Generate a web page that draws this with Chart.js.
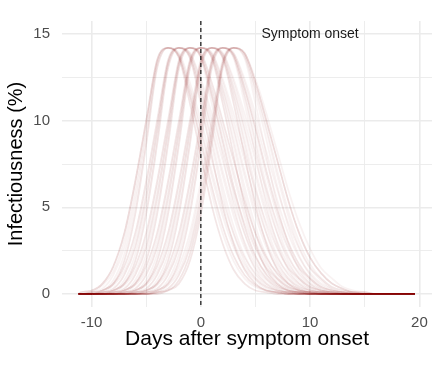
<!DOCTYPE html>
<html>
<head>
<meta charset="utf-8">
<script src="https://cdn.jsdelivr.net/npm/chart.js@4.4.0/dist/chart.umd.min.js"></script>
<style>
  html, body { margin: 0; padding: 0; background: #fff; }
</style>
</head>
<body>
<canvas id="chart" width="440" height="366"></canvas>
<script>
// x positions of every curve (days after symptom onset)
const days = [-11.2, -11, -10, -9, -8, -7, -6, -5, -4, -3, -2, -1, 0, 1, 2, 3, 4, 5, 6, 7, 8, 9, 10, 11, 12, 13, 14, 15, 16, 17, 18, 19, 19.6];

// infectiousness (%) per day, grouped by the day the curve peaks
const peakDays = [-3, -2, -1, 0, 1, 2, 3];
const peakValue = 14.2;

const peakAtMinus3 = [
  [0, 0.1,0.2,0.6,1.6,3.5,6.5,10.0,13.5, 14.2, 13.6,11.0,8.0,5.1,2.9,1.4,0.6,0.2,0.1, 0,0,0,0,0, 0,0,0,0,0, 0,0,0,0],
  [0,0, 0.1,0.3,1.1,2.7,5.6,9.4,13.3, 14.2, 13.7,11.5,8.9,6.2,3.9,2.2,1.1,0.5,0.2,0.1, 0,0,0,0,0, 0,0,0,0,0, 0,0,0],
  [0,0,0, 0.2,0.6,1.9,4.6,8.6,13.0, 14.2, 13.8,11.9,9.6,7.1,4.8,3.0,1.7,0.9,0.4,0.2,0.1, 0,0,0,0,0, 0,0,0,0,0, 0,0],
  [0, 0.1,0.2,0.6,1.6,3.5,6.5,10.0,13.5, 14.2, 13.7,11.5,8.9,6.2,3.9,2.2,1.1,0.5,0.2,0.1, 0,0,0,0,0, 0,0,0,0,0, 0,0,0],
  [0,0, 0.1,0.2,0.8,2.3,5.1,9.0,13.2, 14.2, 13.7,11.4,8.6,5.8,3.5,1.9,0.9,0.4,0.2,0.1, 0,0,0,0,0, 0,0,0,0,0, 0,0,0],
  [0,0, 0.1,0.5,1.3,3.1,6.1,9.7,13.4, 14.2, 13.8,11.8,9.4,6.8,4.5,2.7,1.5,0.8,0.3,0.1,0.1, 0,0,0,0,0, 0,0,0,0,0, 0,0],
  [0,0,0, 0.2,0.6,1.9,4.6,8.6,13.0, 14.2, 13.6,11.0,8.0,5.1,2.9,1.4,0.6,0.2,0.1, 0,0,0,0,0, 0,0,0,0,0, 0,0,0,0],
  [0, 0.1,0.2,0.6,1.6,3.5,6.5,10.0,13.5, 14.2, 13.9,12.2,10.0,7.7,5.4,3.5,2.1,1.2,0.6,0.3,0.1,0.1, 0,0,0,0,0, 0,0,0,0,0, 0]
];
const peakAtMinus2 = [
  [0,0,0, 0.1,0.3,1.1,2.7,5.6,9.4,13.3, 14.2, 13.6,11.0,8.0,5.1,2.9,1.4,0.6,0.2,0.1, 0,0,0,0,0, 0,0,0,0,0, 0,0,0],
  [0,0, 0.1,0.2,0.6,1.6,3.5,6.5,10.0,13.5, 14.2, 13.8,11.9,9.6,7.1,4.8,3.0,1.7,0.9,0.4,0.2,0.1, 0,0,0,0,0, 0,0,0,0,0, 0],
  [0,0,0,0, 0.2,0.6,1.9,4.6,8.6,13.0, 14.2, 13.7,11.5,8.9,6.2,3.9,2.2,1.1,0.5,0.2,0.1, 0,0,0,0,0, 0,0,0,0,0, 0,0],
  [0,0,0, 0.1,0.3,1.1,2.7,5.6,9.4,13.3, 14.2, 13.9,12.2,10.0,7.7,5.4,3.5,2.1,1.2,0.6,0.3,0.1,0.1, 0,0,0,0,0, 0,0,0,0,0],
  [0,0,0, 0.1,0.2,0.8,2.3,5.1,9.0,13.2, 14.2, 13.8,11.8,9.4,6.8,4.5,2.7,1.5,0.8,0.3,0.1,0.1, 0,0,0,0,0, 0,0,0,0,0, 0],
  [0,0,0, 0.1,0.5,1.3,3.1,6.1,9.7,13.4, 14.2, 13.7,11.4,8.6,5.8,3.5,1.9,0.9,0.4,0.2,0.1, 0,0,0,0,0, 0,0,0,0,0, 0,0],
  [0,0, 0.1,0.2,0.6,1.6,3.5,6.5,10.0,13.5, 14.2, 13.6,11.0,8.0,5.1,2.9,1.4,0.6,0.2,0.1, 0,0,0,0,0, 0,0,0,0,0, 0,0,0],
  [0,0,0,0, 0.2,0.6,1.9,4.6,8.6,13.0, 14.2, 13.9,12.4,10.4,8.2,6.0,4.1,2.6,1.5,0.9,0.4,0.2,0.1, 0,0,0,0,0, 0,0,0,0,0]
];
const peakAtMinus1 = [
  [0,0,0,0,0, 0.2,0.6,1.9,4.6,8.6,13.0, 14.2, 13.6,11.0,8.0,5.1,2.9,1.4,0.6,0.2,0.1, 0,0,0,0,0, 0,0,0,0,0, 0,0],
  [0,0,0,0, 0.1,0.3,1.1,2.7,5.6,9.4,13.3, 14.2, 13.8,11.9,9.6,7.1,4.8,3.0,1.7,0.9,0.4,0.2,0.1, 0,0,0,0,0, 0,0,0,0,0],
  [0,0,0, 0.1,0.2,0.6,1.6,3.5,6.5,10.0,13.5, 14.2, 13.7,11.5,8.9,6.2,3.9,2.2,1.1,0.5,0.2,0.1, 0,0,0,0,0, 0,0,0,0,0, 0],
  [0,0,0,0,0, 0.2,0.6,1.9,4.6,8.6,13.0, 14.2, 13.9,12.2,10.0,7.7,5.4,3.5,2.1,1.2,0.6,0.3,0.1,0.1, 0,0,0,0,0, 0,0,0,0],
  [0,0,0,0, 0.1,0.2,0.8,2.3,5.1,9.0,13.2, 14.2, 13.7,11.5,8.9,6.2,3.9,2.2,1.1,0.5,0.2,0.1, 0,0,0,0,0, 0,0,0,0,0, 0],
  [0,0,0,0, 0.1,0.5,1.3,3.1,6.1,9.7,13.4, 14.2, 13.9,12.2,10.0,7.7,5.4,3.5,2.1,1.2,0.6,0.3,0.1,0.1, 0,0,0,0,0, 0,0,0,0],
  [0,0,0,0, 0.1,0.3,1.1,2.7,5.6,9.4,13.3, 14.2, 13.7,11.4,8.6,5.8,3.5,1.9,0.9,0.4,0.2,0.1, 0,0,0,0,0, 0,0,0,0,0, 0],
  [0,0,0, 0.1,0.2,0.6,1.6,3.5,6.5,10.0,13.5, 14.2, 13.8,11.8,9.4,6.8,4.5,2.7,1.5,0.8,0.3,0.1,0.1, 0,0,0,0,0, 0,0,0,0,0]
];
const peakAt0 = [
  [0,0,0,0, 0.1,0.2,0.6,1.6,3.5,6.5,10.0,13.5, 14.2, 13.6,11.0,8.0,5.1,2.9,1.4,0.6,0.2,0.1, 0,0,0,0,0, 0,0,0,0,0, 0],
  [0,0,0,0,0, 0, 0.2,0.6,1.9,4.6,8.6,13.0, 14.2, 13.7,11.5,8.9,6.2,3.9,2.2,1.1,0.5,0.2,0.1, 0,0,0,0,0, 0,0,0,0,0],
  [0,0,0,0,0, 0.1,0.3,1.1,2.7,5.6,9.4,13.3, 14.2, 13.8,11.9,9.6,7.1,4.8,3.0,1.7,0.9,0.4,0.2,0.1, 0,0,0,0,0, 0,0,0,0],
  [0,0,0,0, 0.1,0.2,0.6,1.6,3.5,6.5,10.0,13.5, 14.2, 13.9,12.2,10.0,7.7,5.4,3.5,2.1,1.2,0.6,0.3,0.1,0.1, 0,0,0,0,0, 0,0,0],
  [0,0,0,0,0, 0.1,0.2,0.8,2.3,5.1,9.0,13.2, 14.2, 13.8,11.8,9.4,6.8,4.5,2.7,1.5,0.8,0.3,0.1,0.1, 0,0,0,0,0, 0,0,0,0],
  [0,0,0,0,0, 0.1,0.5,1.3,3.1,6.1,9.7,13.4, 14.2, 13.6,11.0,8.0,5.1,2.9,1.4,0.6,0.2,0.1, 0,0,0,0,0, 0,0,0,0,0, 0],
  [0,0,0,0,0, 0, 0.2,0.6,1.9,4.6,8.6,13.0, 14.2, 13.9,12.4,10.4,8.2,6.0,4.1,2.6,1.5,0.9,0.4,0.2,0.1, 0,0,0,0,0, 0,0,0],
  [0,0,0,0,0, 0.1,0.3,1.1,2.7,5.6,9.4,13.3, 14.2, 13.7,11.4,8.6,5.8,3.5,1.9,0.9,0.4,0.2,0.1, 0,0,0,0,0, 0,0,0,0,0]
];
const peakAtPlus1 = [
  [0,0,0,0,0, 0, 0.1,0.3,1.1,2.7,5.6,9.4,13.3, 14.2, 13.6,11.0,8.0,5.1,2.9,1.4,0.6,0.2,0.1, 0,0,0,0,0, 0,0,0,0,0],
  [0,0,0,0,0, 0,0, 0.2,0.6,1.9,4.6,8.6,13.0, 14.2, 13.8,11.9,9.6,7.1,4.8,3.0,1.7,0.9,0.4,0.2,0.1, 0,0,0,0,0, 0,0,0],
  [0,0,0,0,0, 0.1,0.2,0.6,1.6,3.5,6.5,10.0,13.5, 14.2, 13.7,11.5,8.9,6.2,3.9,2.2,1.1,0.5,0.2,0.1, 0,0,0,0,0, 0,0,0,0],
  [0,0,0,0,0, 0, 0.1,0.3,1.1,2.7,5.6,9.4,13.3, 14.2, 13.9,12.2,10.0,7.7,5.4,3.5,2.1,1.2,0.6,0.3,0.1,0.1, 0,0,0,0,0, 0,0],
  [0,0,0,0,0, 0, 0.1,0.2,0.8,2.3,5.1,9.0,13.2, 14.2, 13.7,11.4,8.6,5.8,3.5,1.9,0.9,0.4,0.2,0.1, 0,0,0,0,0, 0,0,0,0],
  [0,0,0,0,0, 0, 0.1,0.5,1.3,3.1,6.1,9.7,13.4, 14.2, 13.8,11.8,9.4,6.8,4.5,2.7,1.5,0.8,0.3,0.1,0.1, 0,0,0,0,0, 0,0,0],
  [0,0,0,0,0, 0.1,0.2,0.6,1.6,3.5,6.5,10.0,13.5, 14.2, 13.9,12.4,10.4,8.2,6.0,4.1,2.6,1.5,0.9,0.4,0.2,0.1, 0,0,0,0,0, 0,0],
  [0,0,0,0,0, 0,0, 0.2,0.6,1.9,4.6,8.6,13.0, 14.2, 13.6,11.0,8.0,5.1,2.9,1.4,0.6,0.2,0.1, 0,0,0,0,0, 0,0,0,0,0]
];
const peakAtPlus2 = [
  [0,0,0,0,0, 0,0,0, 0.2,0.6,1.9,4.6,8.6,13.0, 14.2, 13.6,11.0,8.0,5.1,2.9,1.4,0.6,0.2,0.1, 0,0,0,0,0, 0,0,0,0],
  [0,0,0,0,0, 0, 0.1,0.2,0.6,1.6,3.5,6.5,10.0,13.5, 14.2, 13.8,11.9,9.6,7.1,4.8,3.0,1.7,0.9,0.4,0.2,0.1, 0,0,0,0,0, 0,0],
  [0,0,0,0,0, 0,0, 0.1,0.3,1.1,2.7,5.6,9.4,13.3, 14.2, 13.7,11.5,8.9,6.2,3.9,2.2,1.1,0.5,0.2,0.1, 0,0,0,0,0, 0,0,0],
  [0,0,0,0,0, 0,0,0, 0.2,0.6,1.9,4.6,8.6,13.0, 14.2, 13.9,12.2,10.0,7.7,5.4,3.5,2.1,1.2,0.6,0.3,0.1,0.1, 0,0,0,0,0, 0],
  [0,0,0,0,0, 0,0, 0.1,0.2,0.8,2.3,5.1,9.0,13.2, 14.2, 13.8,11.9,9.6,7.1,4.8,3.0,1.7,0.9,0.4,0.2,0.1, 0,0,0,0,0, 0,0],
  [0,0,0,0,0, 0,0, 0.1,0.5,1.3,3.1,6.1,9.7,13.4, 14.2, 13.7,11.4,8.6,5.8,3.5,1.9,0.9,0.4,0.2,0.1, 0,0,0,0,0, 0,0,0],
  [0,0,0,0,0, 0,0, 0.1,0.3,1.1,2.7,5.6,9.4,13.3, 14.2, 13.9,12.4,10.4,8.2,6.0,4.1,2.6,1.5,0.9,0.4,0.2,0.1, 0,0,0,0,0, 0],
  [0,0,0,0,0, 0, 0.1,0.2,0.6,1.6,3.5,6.5,10.0,13.5, 14.2, 13.8,11.8,9.4,6.8,4.5,2.7,1.5,0.8,0.3,0.1,0.1, 0,0,0,0,0, 0,0]
];
const peakAtPlus3 = [
  [0,0,0,0,0, 0,0,0, 0.1,0.3,1.1,2.7,5.6,9.4,13.3, 14.2, 13.7,11.5,8.9,6.2,3.9,2.2,1.1,0.5,0.2,0.1, 0,0,0,0,0, 0,0],
  [0,0,0,0,0, 0,0,0,0, 0.2,0.6,1.9,4.6,8.6,13.0, 14.2, 13.8,11.9,9.6,7.1,4.8,3.0,1.7,0.9,0.4,0.2,0.1, 0,0,0,0,0, 0],
  [0,0,0,0,0, 0,0, 0.1,0.2,0.6,1.6,3.5,6.5,10.0,13.5, 14.2, 13.9,12.2,10.0,7.7,5.4,3.5,2.1,1.2,0.6,0.3,0.1,0.1, 0,0,0,0,0],
  [0,0,0,0,0, 0,0,0,0, 0.2,0.6,1.9,4.6,8.6,13.0, 14.2, 13.9,12.2,10.0,7.7,5.4,3.5,2.1,1.2,0.6,0.3,0.1,0.1, 0,0,0,0,0],
  [0,0,0,0,0, 0,0,0, 0.1,0.2,0.8,2.3,5.1,9.0,13.2, 14.2, 13.6,11.0,8.0,5.1,2.9,1.4,0.6,0.2,0.1, 0,0,0,0,0, 0,0,0],
  [0,0,0,0,0, 0,0,0, 0.1,0.5,1.3,3.1,6.1,9.7,13.4, 14.2, 13.8,11.8,9.4,6.8,4.5,2.7,1.5,0.8,0.3,0.1,0.1, 0,0,0,0,0, 0],
  [0,0,0,0,0, 0,0,0, 0.1,0.3,1.1,2.7,5.6,9.4,13.3, 14.2, 13.9,12.4,10.4,8.2,6.0,4.1,2.6,1.5,0.9,0.4,0.2,0.1, 0,0,0,0,0],
  [0,0,0,0,0, 0,0,0, 0.1,0.2,0.8,2.3,5.1,9.0,13.2, 14.2, 13.9,12.2,10.0,7.7,5.4,3.5,2.1,1.2,0.6,0.3,0.1,0.1, 0,0,0,0,0]
];

// axes
const xGrid = [-10, -5, 0, 5, 10, 15, 20];
const xLabels = [-10, 0, 10, 20];
const yGrid = [0, 2.5, 5, 7.5, 10, 12.5, 15];
const yLabels = [0, 5, 10, 15];

// vertical marker + its note
const onsetDay = 0;
const noteText = 'Symptom onset';
const noteAt = [10, 15];

const font = '"Liberation Sans", Arial, Helvetica, sans-serif';

const groups = [peakAtMinus3, peakAtMinus2, peakAtMinus1, peakAt0, peakAtPlus1, peakAtPlus2, peakAtPlus3];
const datasets = [];
groups.forEach((g, gi) => g.forEach(vals => {
  // sanity check on the hand typed rows
  if (vals.length !== days.length) throw new Error('bad curve length ' + vals.length);
  if (days[vals.indexOf(peakValue)] !== peakDays[gi]) throw new Error('bad peak in group ' + gi);
  datasets.push({
    data: vals.map((v, i) => ({ x: days[i], y: v })),
    borderColor: 'rgba(139,0,0,0.05)',
    borderWidth: 1.8,
    pointRadius: 0,
    fill: false,
    cubicInterpolationMode: 'monotone'
  });
}));

const onsetLine = {
  id: 'onsetLine',
  afterDatasetsDraw(chart) {
    const { ctx, chartArea, scales } = chart;
    const x = scales.x.getPixelForValue(onsetDay);
    ctx.save();
    ctx.strokeStyle = '#222';
    ctx.lineWidth = 1.3;
    ctx.setLineDash([4, 3]);
    ctx.beginPath();
    ctx.moveTo(x, chartArea.top);
    ctx.lineTo(x, chartArea.bottom);
    ctx.stroke();
    ctx.setLineDash([]);
    ctx.fillStyle = '#1a1a1a';
    ctx.font = '14px ' + font;
    ctx.textAlign = 'center';
    ctx.textBaseline = 'middle';
    ctx.fillText(noteText, scales.x.getPixelForValue(noteAt[0]), scales.y.getPixelForValue(noteAt[1]));
    ctx.restore();
  }
};

new Chart(document.getElementById('chart'), {
  type: 'line',
  data: { datasets },
  plugins: [onsetLine],
  options: {
    responsive: false,
    animation: false,
    events: [],
    layout: { padding: { top: 6, right: 8, left: 0, bottom: 0 } },
    plugins: { legend: { display: false }, tooltip: { enabled: false } },
    scales: {
      x: {
        type: 'linear',
        min: -12.7,
        max: 21.15,
        afterBuildTicks: s => { s.ticks = xGrid.map(v => ({ value: v })); },
        afterFit: s => { s.height = 59; },
        border: { display: false },
        grid: {
          drawTicks: false,
          color: '#ebebeb',
          lineWidth: c => xLabels.includes(c.tick.value) ? 1.6 : 0.9
        },
        ticks: {
          autoSkip: false,
          maxRotation: 0,
          padding: 7,
          color: '#4d4d4d',
          font: { family: font, size: 15 },
          callback: v => xLabels.includes(v) ? String(v) : ''
        },
        title: {
          display: true,
          text: 'Days after symptom onset',
          color: '#000',
          font: { family: font, size: 21 },
          padding: { top: 0, bottom: 14 }
        }
      },
      y: {
        type: 'linear',
        min: -0.75,
        max: 15.75,
        afterBuildTicks: s => { s.ticks = yGrid.map(v => ({ value: v })); },
        afterFit: s => { s.width = 62; },
        border: { display: false },
        grid: {
          drawTicks: false,
          color: '#ebebeb',
          lineWidth: c => yLabels.includes(c.tick.value) ? 1.6 : 0.9
        },
        ticks: {
          padding: 12,
          color: '#4d4d4d',
          font: { family: font, size: 15 },
          callback: v => yLabels.includes(v) ? String(v) : ''
        },
        title: {
          display: true,
          text: 'Infectiousness (%)',
          color: '#000',
          font: { family: font, size: 20 },
          padding: { top: 4, bottom: 0 }
        }
      }
    }
  }
});
</script>
</body>
</html>
